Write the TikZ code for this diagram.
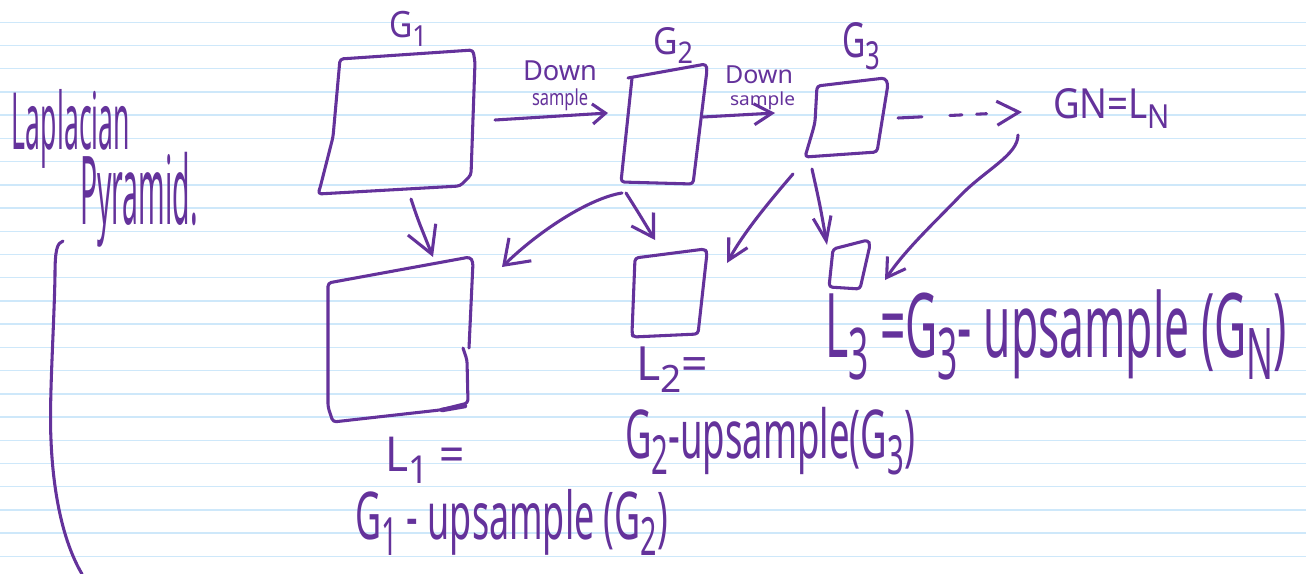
\documentclass[tikz,border=0pt]{standalone}
\usepackage{fontspec}
\setmainfont{Noto Sans}
\usepackage{graphicx}
\usetikzlibrary{arrows.meta}
\newdimen\pxu \pxu=0.75pt
% fit a text into a given ink width and total height (in pixels)
\newcommand\fit[3]{\resizebox*{#1\pxu}{#2\pxu}{#3}}
\newcommand\lowidx[1]{\raisebox{-0.45ex}{\scalebox{0.8}{#1}}}
\definecolor{ink}{RGB}{100,50,155}
\definecolor{ruling}{RGB}{206,232,250}
\begin{document}
\begin{tikzpicture}[x=0.75pt,y=-0.75pt,
  pen/.style={draw=ink, line width=2.3pt, line cap=round, line join=round},
  boxline/.style={pen, rounded corners=2.5pt},
  txt/.style={inner sep=0pt, outer sep=0pt, text=ink, anchor=north west},
  ruleline/.style={draw=ruling, line width=1.1pt}]

% paper and ruled lines
\fill[white] (0,0) rectangle (1306,574);
\useasboundingbox (0,0) rectangle (1306,574);
\foreach \k in {0,...,23}
  \draw[ruleline] (0,{22.3+23.22*\k}) -- (1306,{22.3+23.22*\k});

% title and margin bracket
\node[txt] (lap) at (12,89) {\fit{118}{79}{Laplacian}};
\node[txt] (pyr) at (80,152) {\fit{118}{95}{Pyramid.}};
\draw[pen] (63,241) .. controls (57,243) and (55,250) .. (55,275)
           .. controls (54,330) and (49,400) .. (51,440)
           .. controls (53,490) and (62,540) .. (82,574);

% Gaussian levels
\draw[boxline] (340,59) -- (473,50) -- (475,62) -- (471,175) -- (460,186) -- (318,194) -- (320,188) -- (333,137) -- cycle;
\draw[boxline] (628,78) -- (706,64) -- (707,70) -- (693,184) -- (621,182) -- (623,163) -- (632,78);
\draw[boxline] (817,86) -- (885,78) -- (888,84) -- (877,152) -- (805,157) -- (813,130) -- (815,122) -- cycle;

\node[txt] (g1lab) at (389,11) {\fit{38}{35}{G\lowidx{1}}};
\node[txt] (g2lab) at (653,27) {\fit{40}{36}{G\lowidx{2}}};
\node[txt] (g3lab) at (842,23) {\fit{38}{47}{G\lowidx{3}}};

% Laplacian levels
\draw[boxline] (463,348) -- (467,360) -- (468,403) -- (440,410) -- (333,422) -- (328,407) -- (328,283) -- (470,257) -- (473,262) -- (469,348);
\draw[pen, line width=3.4pt] (442,410) -- (465,406);
\draw[boxline] (635,258) -- (705,249) -- (707,253) -- (698,334) -- (633,337) -- (632,333) -- cycle;
\draw[boxline] (833,249) -- (868,240) -- (870,245) -- (860,289) -- (829,287) -- cycle;

% connector end points
\coordinate (g1e) at (495,120);  \coordinate (g2w) at (608,113);
\coordinate (g2e) at (703,117);  \coordinate (g3w) at (775,113);
\coordinate (g3e) at (898,118);  \coordinate (gnw) at (1022,112);
\coordinate (gns) at (1018,135); \coordinate (l3e) at (885,280);
\coordinate (g1s) at (411,199);  \coordinate (l1n) at (433,257);
\coordinate (g2sw) at (622,193); \coordinate (l1ne) at (502,267);
\coordinate (g2s) at (626,193);  \coordinate (l2n) at (655,240);
\coordinate (g3sw) at (793,174); \coordinate (l2ne) at (727,263);
\coordinate (g3s) at (812,169);  \coordinate (l3n) at (827,245);

% downsampling
\draw[pen, -{Straight Barb[length=9.75pt,width=15pt]}] (g1e) -- (g2w);
\draw[pen, -{Straight Barb[length=13.5pt,width=15.75pt]}] (g2e) -- (g3w);
\node[txt] (dn1) at (523,61) {\fit{74}{20}{Down}};
\node[txt] (sm1) at (532,89) {\fit{56}{22}{sample}};
\node[txt] (dn2) at (725,66) {\fit{68}{18}{Down}};
\node[txt] (sm2) at (730,92) {\fit{65}{18}{sample}};
\draw[pen, dash pattern=on 18pt off 21pt on 9pt off 11pt on 7.5pt off 40pt,
      -{Straight Barb[length=16.5pt,width=18pt]}] (g3e) -- (gnw);
\node[txt] (gn) at (1053,88) {\fit{117}{40}{GN=L\lowidx{N}}};

% upsampling differences
\draw[pen, -{Straight Barb[length=20pt,width=22.5pt]}] (g1s) .. controls (418,220) .. (l1n);
\draw[pen, -{Straight Barb[length=17pt,width=24pt]}] (g2sw) .. controls (590,198) and (540,230) .. (l1ne);
\draw[pen, -{Straight Barb[length=16pt,width=19.5pt]}] (g2s) .. controls (638,212) .. (l2n);
\draw[pen, -{Straight Barb[length=15pt,width=16pt]}] (g3sw) .. controls (775,195) and (745,230) .. (l2ne);
\draw[pen, -{Straight Barb[length=18pt,width=13.5pt]}] (g3s) .. controls (820,205) .. (l3n);
\draw[pen, -{Straight Barb[length=13.5pt,width=16.5pt]}] (gns) .. controls (1018,155) and (985,170) .. (960,196)
      .. controls (935,222) and (905,250) .. (l3e);

% formulas
\node[txt] (l1eq) at (385,437) {\fit{80}{46}{L\lowidx{1} =}};
\node[txt] (l1def) at (355,489) {\fit{313}{66}{G\lowidx{1} - upsample (G\lowidx{2})}};
\node[txt] (l2eq) at (636,347) {\fit{72}{45}{L\lowidx{2}=}};
\node[txt] (l2def) at (625,407) {\fit{290}{68}{G\lowidx{2}-upsample(G\lowidx{3})}};
\node[txt] (l3def) at (825,290) {\fit{462}{90}{L\lowidx{3} =G\lowidx{3}- upsample (G\lowidx{N})}};
\end{tikzpicture}
\end{document}
